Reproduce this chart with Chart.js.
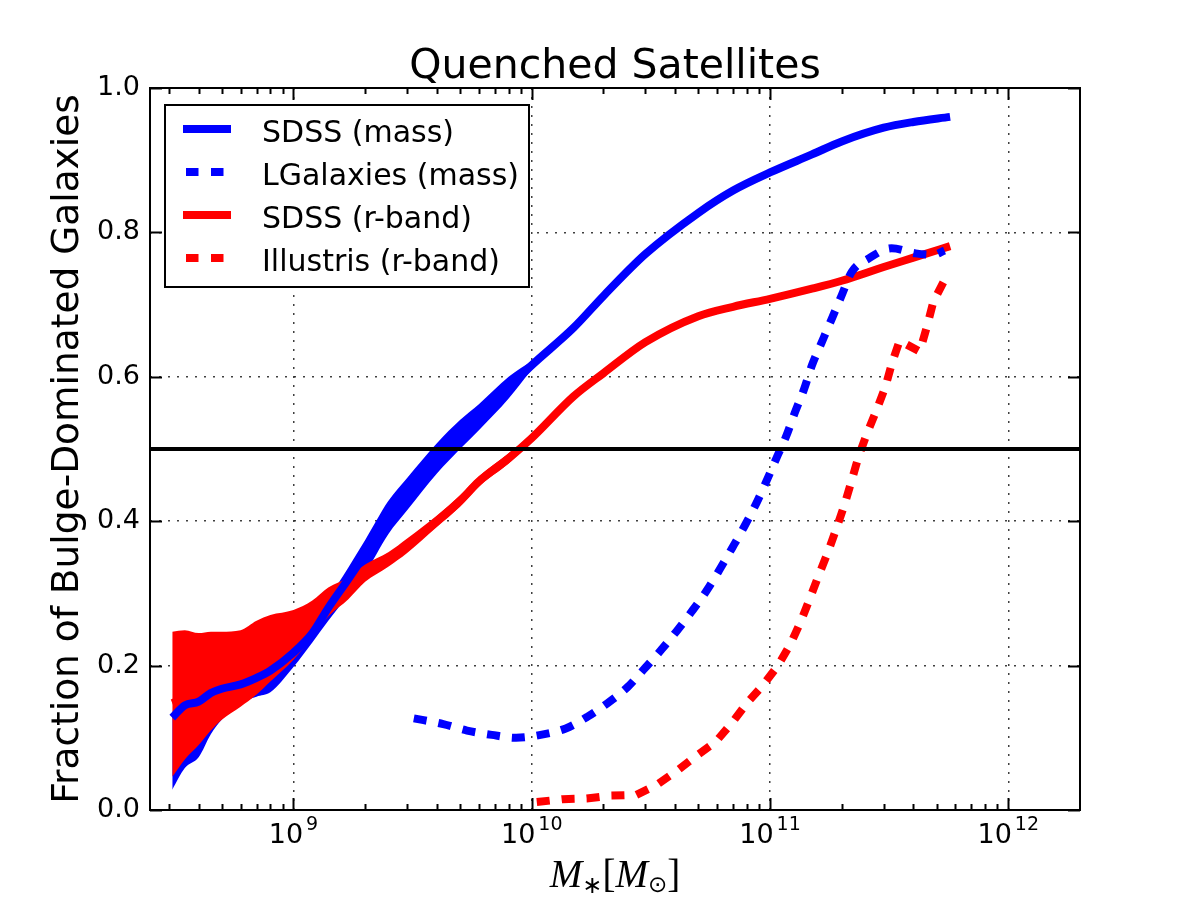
<!DOCTYPE html>
<html>
<head>
<meta charset="utf-8">
<script src="https://cdn.jsdelivr.net/npm/chart.js@4.4.1/dist/chart.umd.min.js"></script>
<style>
  body { margin: 0; background: #fff; }
</style>
</head>
<body>
<canvas id="chart_1" width="1200" height="900"></canvas>
<script>
// stellar mass grid for the two SDSS curves (solar masses)
var sdssMass = [3.1e8, 3.5e8, 4.0e8, 4.5e8, 5.0e8, 6.0e8, 7.0e8, 8.0e8, 1.0e9, 1.2e9,
                1.4e9, 1.7e9, 2.0e9, 2.5e9, 3.0e9, 4.0e9, 5.0e9, 6.0e9, 8.0e9, 1.0e10,
                1.5e10, 2.0e10, 3.0e10, 5.0e10, 7.0e10, 1.0e11, 1.5e11, 2.0e11, 3.0e11, 4.0e11, 5.7e11];

var sdssMassFrac = [0.128, 0.145, 0.150, 0.162, 0.168, 0.174, 0.183, 0.193, 0.218, 0.245,
                    0.280, 0.320, 0.355, 0.405, 0.440, 0.490, 0.522, 0.545, 0.585, 0.616,
                    0.668, 0.712, 0.770, 0.827, 0.858, 0.883, 0.908, 0.926, 0.945, 0.953, 0.960];
// uncertainty band, only up to 1e10
var sdssMassLo = [0.028, 0.058, 0.073, 0.105, 0.125, 0.148, 0.157, 0.163, 0.198, 0.232,
                  0.262, 0.298, 0.328, 0.382, 0.415, 0.466, 0.500, 0.526, 0.570, 0.610];
var sdssMassHi = [0.130, 0.147, 0.152, 0.164, 0.170, 0.176, 0.185, 0.195, 0.222, 0.255,
                  0.292, 0.336, 0.374, 0.428, 0.460, 0.508, 0.540, 0.562, 0.600, 0.622];

var sdssRbandFrac = [0.148, 0.155, 0.165, 0.175, 0.183, 0.195, 0.205, 0.215, 0.240, 0.265,
                     0.288, 0.307, 0.328, 0.347, 0.366, 0.400, 0.428, 0.455, 0.487, 0.515,
                     0.573, 0.605, 0.648, 0.684, 0.697, 0.708, 0.722, 0.733, 0.752, 0.765, 0.781];
var sdssRbandLo = [0.046, 0.070, 0.090, 0.110, 0.125, 0.143, 0.160, 0.178, 0.208, 0.240,
                   0.268, 0.292, 0.316, 0.337, 0.356, 0.392, 0.420, 0.448, 0.480, 0.510];
var sdssRbandHi = [0.247, 0.249, 0.245, 0.247, 0.247, 0.249, 0.262, 0.270, 0.277, 0.290,
                   0.308, 0.322, 0.340, 0.357, 0.376, 0.408, 0.436, 0.462, 0.494, 0.520];

// LGalaxies (mass)
var lgalMass = [3.2e9, 4.25e9, 5.35e9, 6.8e9, 8.6e9, 1.09e10, 1.39e10, 1.71e10, 2.08e10, 2.52e10,
                2.94e10, 3.5e10, 4.04e10, 4.67e10, 5.4e10, 6.12e10, 6.94e10, 7.78e10, 8.74e10, 9.62e10,
                1.06e11, 1.17e11, 1.27e11, 1.39e11, 1.5e11, 1.65e11, 1.82e11, 2.0e11, 2.2e11, 2.6e11,
                3.24e11, 4.08e11, 4.86e11, 5.4e11];
var lgalFrac = [0.127, 0.119, 0.110, 0.104, 0.100, 0.104, 0.113, 0.129, 0.148, 0.170,
                0.194, 0.222, 0.247, 0.274, 0.303, 0.332, 0.363, 0.392, 0.424, 0.454,
                0.486, 0.518, 0.550, 0.583, 0.616, 0.648, 0.681, 0.713, 0.745, 0.764,
                0.778, 0.771, 0.769, 0.775];

// Illustris (r-band)
var illMass = [1.05e10, 1.35e10, 1.7e10, 2.15e10, 2.75e10, 3.35e10, 4.1e10, 4.95e10, 5.9e10, 6.9e10,
               8.0e10, 9.3e10, 1.08e11, 1.22e11, 1.35e11, 1.47e11, 1.6e11, 1.75e11, 1.9e11, 2.05e11,
               2.2e11, 2.35e11, 2.55e11, 2.8e11, 3.05e11, 3.25e11, 3.5e11, 4.25e11, 4.55e11, 4.85e11,
               5.4e11, 5.6e11];
var illFrac = [0.011, 0.015, 0.016, 0.020, 0.021, 0.035, 0.055, 0.076, 0.094, 0.120,
               0.148, 0.172, 0.200, 0.230, 0.262, 0.293, 0.325, 0.357, 0.390, 0.422,
               0.456, 0.489, 0.521, 0.554, 0.586, 0.619, 0.650, 0.635, 0.669, 0.704,
               0.734, 0.745];

var halfLineX = [2.5e8, 2e12];
var halfLineY = [0.5, 0.5];

var seriesNames = ['SDSS (mass)', 'LGalaxies (mass)', 'SDSS (r-band)', 'Illustris (r-band)'];
var xTickValues = [1e9, 1e10, 1e11, 1e12];
var yTickValues = [0.0, 0.2, 0.4, 0.6, 0.8, 1.0];

var BLUE = '#0000ff';
var RED = '#ff0000';

function toPoints(xs, ys) {
  var pts = [];
  for (var i = 0; i < ys.length; i++) {
    pts.push({x: xs[i], y: ys[i]});
  }
  return pts;
}

function bandSet(data, color, fill, order) {
  return {
    data: data, borderColor: 'transparent', backgroundColor: color, borderWidth: 0,
    pointRadius: 0, fill: fill, cubicInterpolationMode: 'monotone', order: order
  };
}

function lineSet(label, data, color, dash, order, smooth) {
  var ds = {
    label: label, data: data, borderColor: color, backgroundColor: color, borderWidth: 8,
    borderDash: dash, pointRadius: 0, fill: false, tension: 0, order: order,
    showInLegend: true
  };
  if (smooth) ds.cubicInterpolationMode = 'monotone';
  return ds;
}

var datasets = [
  bandSet(toPoints(sdssMass, sdssMassLo), BLUE, false, 20),
  bandSet(toPoints(sdssMass, sdssMassHi), BLUE, '-1', 19),
  bandSet(toPoints(sdssMass, sdssRbandLo), RED, false, 18),
  bandSet(toPoints(sdssMass, sdssRbandHi), RED, '-1', 17),
  lineSet(seriesNames[2], toPoints(sdssMass, sdssRbandFrac), RED, [], 16, true),
  lineSet(seriesNames[0], toPoints(sdssMass, sdssMassFrac), BLUE, [], 15, true),
  lineSet(seriesNames[1], toPoints(lgalMass, lgalFrac), BLUE, [13, 12], 14, true),
  lineSet(seriesNames[3], toPoints(illMass, illFrac), RED, [13, 12], 13, false),
  {
    data: toPoints(halfLineX, halfLineY), borderColor: '#000', borderWidth: 4,
    pointRadius: 0, fill: false, order: 1
  }
];

// frame, inward ticks, tick labels with exponents, title, axis labels, legend
var decoPlugin = {
  id: 'deco',
  afterDraw: function(chart) {
    var ctx = chart.ctx;
    var a = chart.chartArea;
    var xs = chart.scales.x, ys = chart.scales.y;
    ctx.save();
    ctx.strokeStyle = '#000';
    ctx.lineWidth = 2;
    ctx.setLineDash([]);

    function seg(x1, y1, x2, y2) {
      ctx.beginPath(); ctx.moveTo(x1, y1); ctx.lineTo(x2, y2); ctx.stroke();
    }

    // minor + major ticks on x (inside, top and bottom)
    var e0 = Math.floor(Math.log10(xs.min)), e1 = Math.ceil(Math.log10(xs.max));
    for (var e = e0; e <= e1; e++) {
      for (var m = 1; m <= 9; m++) {
        var v = m * Math.pow(10, e);
        if (v <= xs.min * 1.0001 || v >= xs.max * 0.9999) continue;
        var px = Math.round(xs.getPixelForValue(v)) + 0.5;
        var len = m === 1 ? 12 : 6;
        seg(px, a.bottom, px, a.bottom - len);
        seg(px, a.top, px, a.top + len);
      }
    }
    yTickValues.forEach(function(v) {
      var py = Math.round(ys.getPixelForValue(v)) + 0.5;
      seg(a.left, py, a.left + 12, py);
      seg(a.right, py, a.right - 12, py);
    });

    ctx.strokeRect(a.left, a.top, a.right - a.left, a.bottom - a.top);

    // x tick labels: 10 with raised exponent
    ctx.fillStyle = '#000';
    ctx.textAlign = 'left';
    ctx.textBaseline = 'alphabetic';
    xTickValues.forEach(function(v) {
      var ex = String(Math.round(Math.log10(v)));
      ctx.font = '27px "DejaVu Sans"';
      var wb = ctx.measureText('10').width;
      ctx.font = '19px "DejaVu Sans"';
      var we = ctx.measureText(ex).width;
      var cx = xs.getPixelForValue(v);
      var x0 = cx - (wb + 3 + we) / 2;
      ctx.font = '27px "DejaVu Sans"';
      ctx.fillText('10', x0, 843);
      ctx.font = '19px "DejaVu Sans"';
      ctx.fillText(ex, x0 + wb + 3, 830);
    });

    // title
    ctx.font = '41px "DejaVu Sans"';
    ctx.textAlign = 'center';
    ctx.fillText('Quenched Satellites', (a.left + a.right) / 2, 78);

    // y label
    ctx.save();
    ctx.translate(78, (a.top + a.bottom) / 2);
    ctx.rotate(-Math.PI / 2);
    ctx.font = '37.5px "DejaVu Sans"';
    ctx.fillText('Fraction of Bulge-Dominated Galaxies', 0, 0);
    ctx.restore();

    // x label  M_*[M_sun]
    var parts = [
      {t: 'M', f: 'italic 39px "Liberation Serif"', dy: 0},
      {t: '∗', f: '24px "DejaVu Sans"', dy: 6},
      {t: '[', f: '39px "Liberation Serif"', dy: 0},
      {t: 'M', f: 'italic 39px "Liberation Serif"', dy: 0},
      {t: '⊙', f: '23px "DejaVu Sans"', dy: 5},
      {t: ']', f: '39px "Liberation Serif"', dy: 0}
    ];
    var total = 0;
    parts.forEach(function(p) { ctx.font = p.f; p.w = ctx.measureText(p.t).width; total += p.w; });
    var x = (a.left + a.right) / 2 - total / 2;
    ctx.textAlign = 'left';
    parts.forEach(function(p) {
      ctx.font = p.f;
      ctx.fillText(p.t, x, 887 + p.dy);
      x += p.w;
    });

    // legend
    var lx = 165, ly = 105, lw = 364, lh = 182;
    ctx.fillStyle = '#fff';
    ctx.fillRect(lx, ly, lw, lh);
    ctx.strokeStyle = '#000';
    ctx.lineWidth = 2;
    ctx.strokeRect(lx, ly, lw, lh);
    seriesNames.forEach(function(name, i) {
      var ds = chart.data.datasets.filter(function(d) { return d.label === name; })[0];
      var cy = 129 + i * 43;
      ctx.strokeStyle = ds.borderColor;
      ctx.lineWidth = 8;
      ctx.setLineDash(ds.borderDash.length ? [12.5, 12.5] : []);
      ctx.beginPath();
      if (ds.borderDash.length) { ctx.moveTo(186, cy); ctx.lineTo(224, cy); }
      else { ctx.moveTo(183, cy); ctx.lineTo(231, cy); }
      ctx.stroke();
      ctx.setLineDash([]);
      ctx.fillStyle = '#000';
      ctx.font = '30px "DejaVu Sans"';
      ctx.textAlign = 'left';
      ctx.textBaseline = 'alphabetic';
      ctx.fillText(name, 262, cy + 13);
    });
    ctx.restore();
  }
};

var ctx_1 = document.getElementById('chart_1').getContext('2d');
var chart_1 = new Chart(ctx_1, {
  type: 'line',
  data: { datasets: datasets },
  options: {
    responsive: false,
    animation: false,
    devicePixelRatio: 1,
    layout: { padding: { left: 0, right: 120, top: 88, bottom: 0 } },
    plugins: { legend: { display: false }, tooltip: { enabled: false } },
    scales: {
      x: {
        type: 'logarithmic',
        min: 2.5e8,
        max: 2e12,
        afterFit: function(s) { s.height = 90; },
        afterBuildTicks: function(s) {
          s.ticks = xTickValues.map(function(v) { return {value: v}; });
        },
        grid: { color: 'rgba(0,0,0,0.75)', lineWidth: 1.5, drawTicks: false },
        border: { display: false, dash: [2, 7] },
        ticks: { display: false }
      },
      y: {
        min: 0,
        max: 1,
        afterFit: function(s) { s.width = 150; },
        afterBuildTicks: function(s) {
          s.ticks = yTickValues.map(function(v) { return {value: v}; });
        },
        grid: {
          color: function(c) {
            var v = c.tick ? c.tick.value : 0;
            return (v <= 0 || v >= 1) ? 'transparent' : 'rgba(0,0,0,0.75)';
          },
          lineWidth: 1.5, drawTicks: false
        },
        border: { display: false, dash: [2, 7] },
        ticks: {
          padding: 10, color: '#000',
          font: { family: 'DejaVu Sans', size: 27 },
          callback: function(v) { return Number(v).toFixed(1); }
        }
      }
    }
  },
  plugins: [decoPlugin]
});
</script>
</body>
</html>
